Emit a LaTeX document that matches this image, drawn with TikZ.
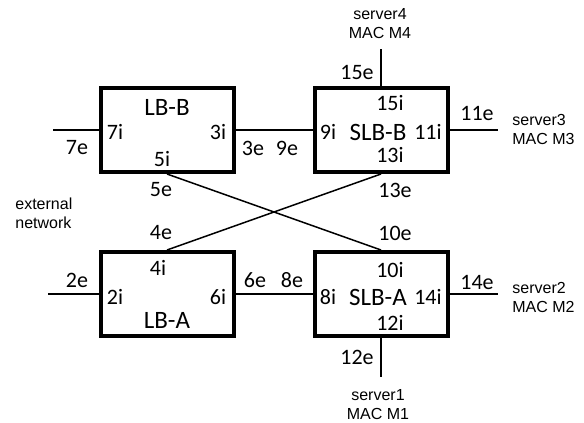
\documentclass[tikz,border=0pt]{standalone}
\usepackage{fontspec}
\setmainfont{Carlito}
\newfontfamily\arialfont{Liberation Sans}
\usetikzlibrary{positioning}

\tikzset{
  lbox/.style={draw, line width=2pt, minimum width=66.5pt, minimum height=42pt, inner sep=0pt},
  port/.style={font=\fontsize{11}{13}\selectfont, inner sep=0pt},
  boxname/.style={font=\fontsize{12.5}{15}\selectfont, inner sep=0pt},
  host/.style={font=\arialfont\fontsize{8}{9.5}\selectfont, inner sep=0pt},
  wire/.style={line width=0.75pt}
}

\begin{document}
\begin{tikzpicture}[x=0.5pt,y=-0.5pt]
  \useasboundingbox (0,0) rectangle (584,423);
  % the four balancers
  \node[lbox] (lbb)  at (167,130) {};
  \node[lbox] (slbb) at (381,130) {};
  \node[lbox] (lba)  at (167,294) {};
  \node[lbox] (slba) at (381,294) {};
  \node[boxname] (nlbb)  at (167,107) {LB-B};
  \node[boxname] (nslbb) at (378,132) {SLB-B};
  \node[boxname] (nlba)  at (167,320) {LB-A};
  \node[boxname] (nslba) at (378,297) {SLB-A};

  % free ends
  \coordinate (w7)  at (53,130);
  \coordinate (w2)  at (48,294);
  \coordinate (w11) at (498,130);
  \coordinate (w14) at (498,294);
  \coordinate (w15) at (381,49);
  \coordinate (w12) at (381,377);

  \draw[wire] (w7) -- (lbb.west);
  \draw[wire] (lbb.east) -- (slbb.west);
  \draw[wire] (slbb.east) -- (w11);
  \draw[wire] (w15) -- (slbb.north);
  \draw[wire] (w2) -- (lba.west);
  \draw[wire] (lba.east) -- (slba.west);
  \draw[wire] (slba.east) -- (w14);
  \draw[wire] (slba.south) -- (w12);
  \draw[wire] (lbb.south) -- (slba.north);
  \draw[wire] (lba.north) -- (slbb.south);

  % port labels
  \foreach \p/\x/\y in {7e/77/148, 7i/115/132, 3i/218/132, 5i/162/159, 3e/253/148, 9e/287/148, 5e/161/190,
      15e/357/72, 15i/390/103, 9i/328/132, 11i/428/132, 13i/390/155, 11e/477/113, 13e/395/190,
      4e/161/233, 4i/158/268, 2e/77/280, 2i/115/297, 6i/218/297, 6e/255/280, 8e/292/280,
      10e/395/233, 10i/390/270, 8i/328/297, 14i/428/297, 12i/390/323, 14e/477/282, 12e/357/357}
    \node[port] (p\p) at (\x,\y) {\p};

  % hosts
  \node[host, align=center] (srv4) at (380,24) {server4\\MAC M4};
  \node[host, align=left, anchor=west] (srv3) at (512,129) {server3\\MAC M3};
  \node[host, align=left, anchor=west] (srv2) at (512,297) {server2\\MAC M2};
  \node[host, align=center] (srv1) at (378,405) {server1\\MAC M1};
  \node[host, align=left, anchor=west] (ext) at (15,213) {external\\network};
\end{tikzpicture}
\end{document}
